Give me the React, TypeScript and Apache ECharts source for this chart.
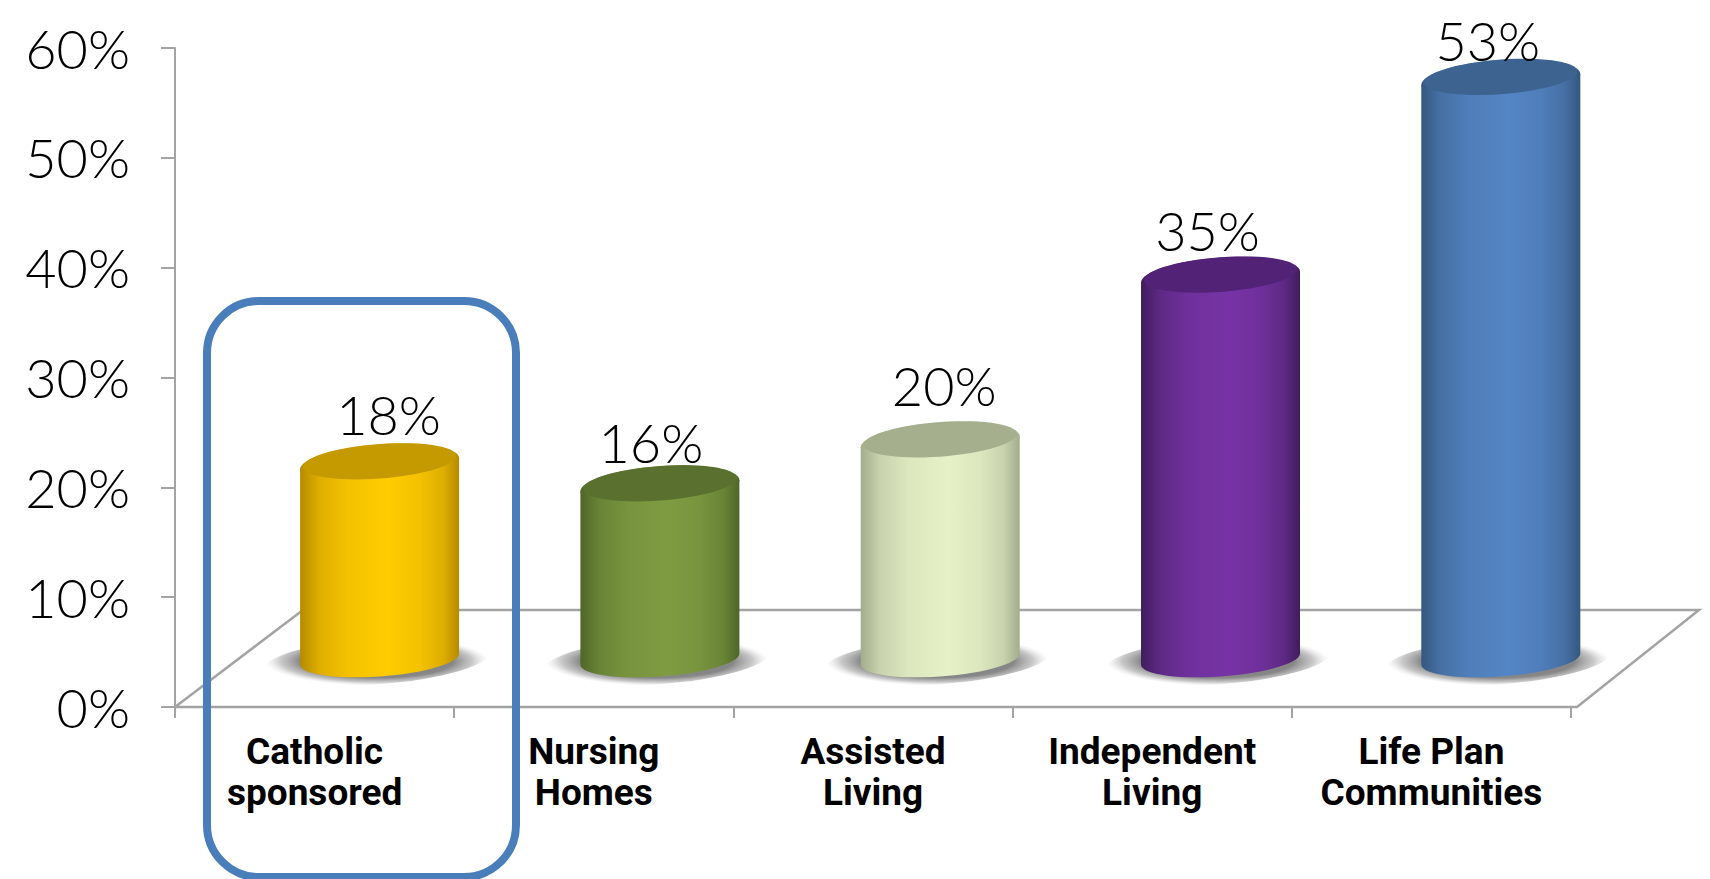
import React, { useEffect, useRef } from "react";
import * as echarts from "echarts";

const categories = ["Catholic\nsponsored", "Nursing\nHomes", "Assisted\nLiving", "Independent\nLiving", "Life Plan\nCommunities"];
const values = [18, 16, 20, 35, 53];
const yTicks = [0, 10, 20, 30, 40, 50, 60];

// colour sets: centre, edge, cap
const centreColors = ["#FFCC00", "#7F9C42", "#E6F1C8", "#7733A6", "#5485C4"];
const edgeColors = ["#B68A00", "#4E6628", "#A3AC8C", "#3F1D5C", "#35577F"];
const capColors = ["#C49A00", "#5A702E", "#A5AF8D", "#522276", "#3D6491"];

// hand-placed data label nudges relative to cylinder top
const labelNudgeX = [9, -9, 4, -13, -13];
const labelNudgeY = [-47, -41, -54, -44, -36];

const DEPTH_X = 65, DEPTH_Y = -48, TOP_SHIFT = 2.5, PITCH_EXTRA = 1.1, RX = 79.5, TOP_RY = 19.5, BASE_RY = 17.5, SKEW = 5.5;

function ellipse(cx: number, cy: number, a: number, b: number, k: number, from = 0, to = 360, step = 6) {
  const pts: number[][] = [];
  for (let d = from; d <= to; d += step) {
    const t = (d * Math.PI) / 180;
    pts.push([cx + a * Math.cos(t), cy + b * Math.sin(t) - k * Math.cos(t)]);
  }
  return pts;
}

function mix(a: string, b: string, f: number) {
  const ch = (h: string, p: number) => parseInt(h.slice(p, p + 2), 16);
  const c = [1, 3, 5].map((p) => Math.round(ch(a, p) + (ch(b, p) - ch(a, p)) * f));
  return `rgb(${c[0]},${c[1]},${c[2]})`;
}

function renderCylinder(params: any, api: any) {
  const i = params.dataIndex;
  const top = api.coord([api.value(0), api.value(1)]);
  const zero = api.coord([api.value(0), 0]);
  const cx = top[0] + DEPTH_X + i * PITCH_EXTRA;
  const topY = top[1] + DEPTH_Y + TOP_SHIFT;
  const baseY = zero[1] + DEPTH_Y;
  const e = edgeColors[i], c = centreColors[i];
  const side = new echarts.graphic.LinearGradient(0, 0, 1, 0, [
    { offset: 0, color: e },
    { offset: 0.12, color: mix(e, c, 0.55) },
    { offset: 0.3, color: mix(e, c, 0.85) },
    { offset: 0.55, color: c },
    { offset: 0.75, color: mix(e, c, 0.85) },
    { offset: 0.9, color: mix(e, c, 0.55) },
    { offset: 1, color: e },
  ]);
  const shadow = new echarts.graphic.RadialGradient(0.5, 0.5, 0.5, [
    { offset: 0, color: "rgba(125,125,125,1)" },
    { offset: 0.68, color: "rgba(135,135,135,1)" },
    { offset: 0.85, color: "rgba(170,170,170,0.65)" },
    { offset: 1, color: "rgba(220,220,220,0)" },
  ]);
  const body = [
    [cx - RX, topY + SKEW],
    [cx + RX, topY - SKEW],
    ...ellipse(cx, baseY, RX, BASE_RY, SKEW, 0, 180),
  ];
  const children: any[] = [
    {
      type: "polygon",
      shape: { points: ellipse(cx - 3, baseY + 2, RX + 33, BASE_RY + 6, 8) },
      style: { fill: shadow },
      silent: true,
    },
    { type: "polygon", shape: { points: body }, style: { fill: side }, silent: true },
    {
      type: "polygon",
      shape: { points: ellipse(cx, topY, RX, TOP_RY, SKEW) },
      style: { fill: side },
      silent: true,
    },
    {
      type: "polygon",
      shape: { points: ellipse(cx, topY - 2.5, RX - 3, TOP_RY - 2.2, SKEW) },
      style: { fill: capColors[i] },
      silent: true,
    },
    {
      type: "text",
      z2: 10,
      silent: true,
      style: {
        x: cx + labelNudgeX[i],
        y: top[1] + DEPTH_Y + labelNudgeY[i],
        text: api.value(1) + "%",
        fill: "#000",
        font: "300 54px Lato, Roboto, sans-serif",
        align: "center",
        verticalAlign: "middle",
      },
    },
  ];
  return { type: "group", children };
}

export default function App() {
  const ref = useRef<HTMLDivElement>(null);
  useEffect(() => {
    document.body.style.margin = "0";
    const chart = echarts.init(ref.current!, null, { renderer: "svg" });
    const line = { color: "#A3A3A3", width: 2 };
    chart.setOption({
      animation: false,
      backgroundColor: "#fff",
      grid: { left: 175, right: 139, top: 48, bottom: 172 },
      xAxis: {
        type: "category",
        data: categories,
        boundaryGap: true,
        axisLine: { lineStyle: line },
        axisTick: { show: true, alignWithLabel: false, interval: 0, length: 11, lineStyle: line },
        axisLabel: {
          interval: 0,
          margin: 24,
          color: "#000",
          fontFamily: "Roboto",
          fontWeight: "bold",
          fontSize: 37,
          lineHeight: 41,
        },
      },
      yAxis: {
        type: "value",
        min: yTicks[0],
        max: yTicks[yTicks.length - 1],
        interval: 10,
        axisLine: { show: true, lineStyle: line },
        axisTick: { show: true, length: 14, lineStyle: line },
        splitLine: { show: false },
        axisLabel: {
          margin: 45,
          color: "#000",
          fontFamily: "Lato, Roboto",
          fontWeight: 300,
          fontSize: 54,
          formatter: "{value}%",
        },
      },
      series: [
        {
          type: "custom",
          z: 3,
          clip: false,
          renderItem: renderCylinder,
          data: values.map((v, i) => [i, v]),
          encode: { x: 0, y: 1 },
        },
      ],
      graphic: [
        {
          type: "polyline",
          z: 1,
          silent: true,
          shape: { points: [[175, 707], [303, 610], [1699, 610], [1577, 707], [175, 707]] },
          style: { stroke: "#A3A3A3", lineWidth: 2.5, fill: "none" },
        },
        {
          type: "rect",
          z: 20,
          silent: true,
          shape: { x: 207, y: 301, width: 309, height: 576, r: 52 },
          style: { fill: "none", stroke: "#4A7EBB", lineWidth: 8 },
        },
      ],
    });
    return () => chart.dispose();
  }, []);
  return <div ref={ref} style={{ width: 1710, height: 879 }} />;
}
